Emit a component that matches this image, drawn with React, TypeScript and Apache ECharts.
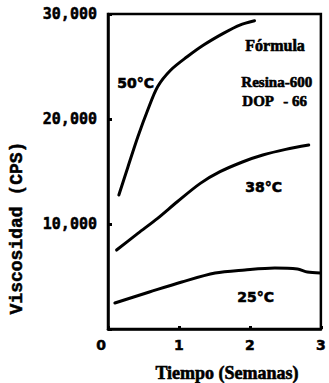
import React, { useEffect, useRef } from "react";
import * as echarts from "echarts";

const weeks50 = [0.153, 0.282, 0.421, 0.56, 0.699, 0.885, 1.115, 1.347, 1.625, 1.857, 2.065];
const visc50 = [12760, 15460, 18310, 20860, 23080, 24670, 25930, 27050, 28160, 28950, 29360];

const weeks38 = [0.121, 0.421, 0.699, 0.976, 1.301, 1.579, 1.903, 2.181, 2.504, 2.829];
const visc38 = [7520, 9110, 10540, 12120, 13870, 14980, 15930, 16570, 17110, 17520];

const weeks25 = [0.097, 0.583, 1.04, 1.51, 1.93, 2.35, 2.67, 2.81, 2.99];
const visc25 = [2480, 3520, 4480, 5330, 5620, 5810, 5710, 5430, 5330];

const xTicks = ["0", "1", "2", "3"];
const yTickLabels = ["", "10,000", "20,000", "30,000"];

const SANS = "'DejaVu Sans', sans-serif";
const MONO = "'DejaVu Sans Mono', monospace";
const SERIF = "'Liberation Serif', serif";

export default function App() {
  const ref = useRef<HTMLDivElement>(null);
  useEffect(() => {
    if (!ref.current) return;
    const chart = echarts.init(ref.current, null, { renderer: "svg" });
    const mk = (xs: number[], ys: number[]) => xs.map((x, i) => [x, ys[i]]);
    const lineSeries = (data: number[][]) => ({
      type: "line",
      data,
      smooth: 0.3,
      showSymbol: false,
      lineStyle: { color: "#000", width: 3, cap: "round" },
      silent: true,
    });
    const txt = (text: string, left: number, top: number, font: string) => ({
      type: "text",
      left,
      top,
      style: { text, font, fill: "#000", stroke: "#000", lineWidth: 0.6 },
    });
    chart.setOption({
      animation: false,
      backgroundColor: "#fff",
      grid: {
        left: 108,
        right: 5,
        top: 14,
        bottom: 54,
        show: true,
        borderColor: "#000",
        borderWidth: 2.5,
      },
      xAxis: {
        type: "value",
        min: 0,
        max: 3,
        interval: 1,
        axisLine: { show: true, lineStyle: { color: "#000", width: 2.5 } },
        axisTick: { show: true, inside: true, length: 3, lineStyle: { color: "#000", width: 3 } },
        splitLine: { show: false },
        axisLabel: {
          formatter: (v: number) => {
            const i = Math.round(v);
            return i === 0 ? "{z|0}" : xTicks[i] ?? "";
          },
          rich: { z: { padding: [0, 14, 0, 0], fontFamily: SANS, fontWeight: "bold", fontSize: 14, color: "#000", textBorderColor: "#000", textBorderWidth: 0.5 } },
          color: "#000",
          fontFamily: SANS,
          fontWeight: "bold",
          fontSize: 14,
          textBorderColor: "#000",
          textBorderWidth: 0.5,
          margin: 9,
        },
      },
      yAxis: {
        type: "value",
        min: 0,
        max: 30000,
        interval: 10000,
        axisLine: { show: true, lineStyle: { color: "#000", width: 2.5 } },
        axisTick: { show: true, inside: true, length: 4, lineStyle: { color: "#000", width: 3 } },
        splitLine: { show: false },
        axisLabel: {
          formatter: (v: number) => yTickLabels[Math.round(v / 10000)] ?? "",
          color: "#000",
          fontFamily: MONO,
          fontWeight: "bold",
          fontSize: 15,
          textBorderColor: "#000",
          textBorderWidth: 0.5,
          margin: 11,
        },
      },
      graphic: [
        {
          type: "text",
          x: 17,
          y: 228,
          rotation: Math.PI / 2,
          style: {
            text: "Viscosidad (CPS)",
            font: `bold 18px 'Liberation Mono', monospace`,
            fill: "#000",
            stroke: "#000",
            lineWidth: 0.5,
            align: "center",
            verticalAlign: "middle",
          },
        },
        {
          type: "text",
          x: 227,
          y: 373,
          style: {
            text: "Tiempo (Semanas)",
            font: `bold 18px ${SERIF}`,
            fill: "#000",
            stroke: "#000",
            lineWidth: 0.6,
            align: "center",
            verticalAlign: "middle",
          },
        },
        txt("50°C", 117, 76, `bold 14px ${SANS}`),
        txt("Fórmula", 245, 37, `bold 16px ${SERIF}`),
        txt("Resina-600", 241, 74, `bold 15px ${SERIF}`),
        txt("DOP", 242, 93, `bold 15px ${SERIF}`),
        txt("- 66", 283, 93, `bold 15px ${SERIF}`),
        txt("38°C", 245, 180, `bold 14px ${SANS}`),
        txt("25°C", 237, 290, `bold 14px ${SANS}`),
      ],
      series: [
        lineSeries(mk(weeks50, visc50)),
        lineSeries(mk(weeks38, visc38)),
        lineSeries(mk(weeks25, visc25)),
      ],
    });
    return () => chart.dispose();
  }, []);
  return <div ref={ref} style={{ width: 329, height: 383, position: "absolute", left: 0, top: 0 }} />;
}
